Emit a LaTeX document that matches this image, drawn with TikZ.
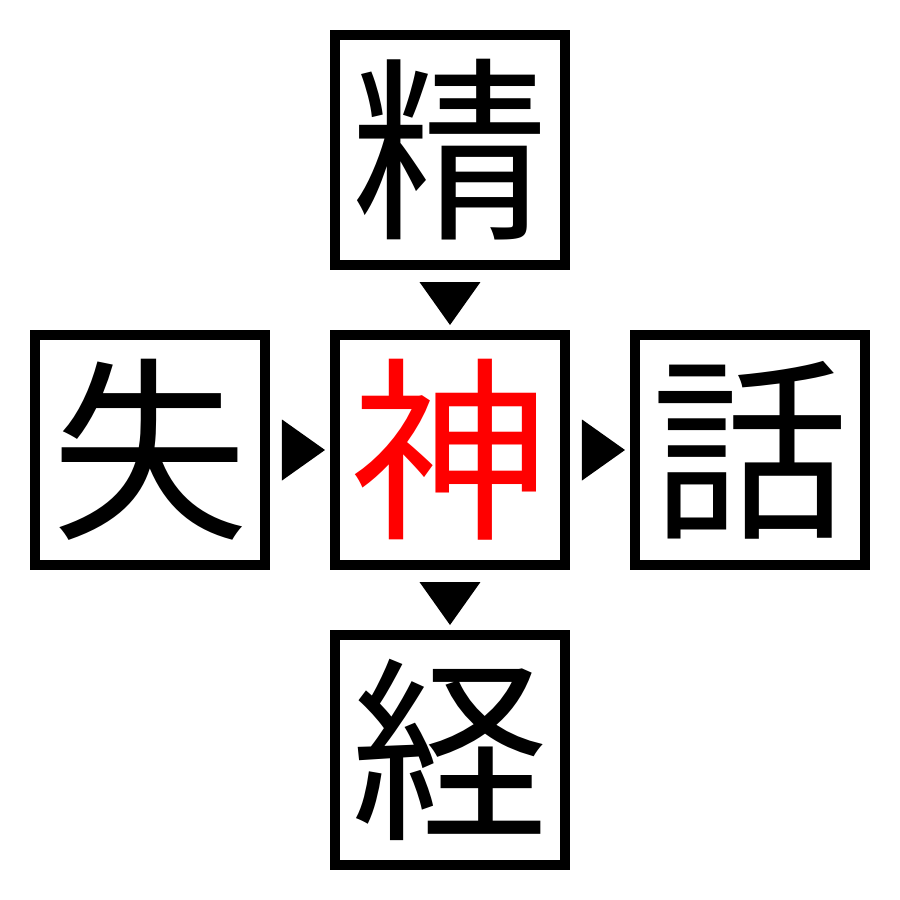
\documentclass[tikz,border=0pt]{standalone}
\usepackage{fontspec}
\newfontfamily\cjk{Noto Sans CJK JP}
\usetikzlibrary{positioning,calc}
\tikzset{
  kanji/.style={draw, line width=0.1cm, minimum size=2.3cm, inner sep=0pt, outer sep=0.05cm,
    font=\cjk\fontsize{56}{56}\selectfont},
}
\newcommand{\rtri}[1]{\fill (#1) ++(-0.18,0.305) -- ++(0,-0.61) -- ++(0.43,0.305) -- cycle;}
\newcommand{\dtri}[1]{\fill (#1) ++(-0.305,0.18) -- ++(0.61,0) -- ++(-0.305,-0.43) -- cycle;}
\begin{document}
\begin{tikzpicture}[node distance=0.6cm]
        \useasboundingbox (-4.5,-4.5) rectangle (4.5,4.5);
        \node[kanji, text=red] (shin) {神};
        \node[kanji, above=of shin] (sei) {精};
        \node[kanji, left=of shin] (shitsu) {失};
        \node[kanji, right=of shin] (wa) {話};
        \node[kanji, below=of shin] (kyo) {経};

        \rtri{$(shitsu.east)!0.5!(shin.west)$}
        \rtri{$(shin.east)!0.5!(wa.west)$}
        \dtri{$(sei.south)!0.5!(shin.north)$}
        \dtri{$(shin.south)!0.5!(kyo.north)$}
    \end{tikzpicture}
\end{document}
